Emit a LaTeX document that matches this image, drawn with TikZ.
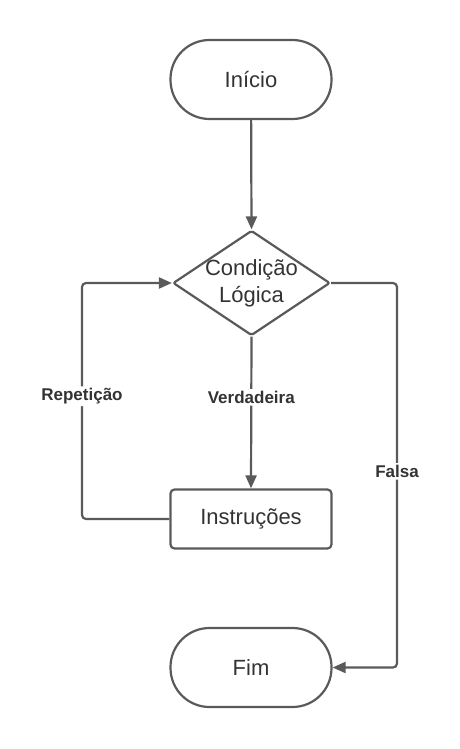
\documentclass[tikz,border=0pt]{standalone}
\usepackage{fontspec}
\setmainfont{Liberation Sans}
\usetikzlibrary{shapes.geometric,arrows.meta}
\definecolor{linec}{HTML}{5A5A5A}
\definecolor{textc}{HTML}{333333}
\begin{document}
\begin{tikzpicture}[x=1pt,y=1pt,
  every node/.style={text=textc},
  lw/.style={line width=2.2pt, draw=linec},
  term/.style={lw, rectangle, rounded corners=39pt, minimum width=161pt, minimum height=79pt, inner sep=0pt, font=\fontsize{22}{27}\selectfont},
  procbox/.style={lw, rectangle, rounded corners=4pt, minimum width=161pt, minimum height=59pt, inner sep=0pt, font=\fontsize{22}{27}\selectfont},
  decis/.style={lw, diamond, rounded corners=2pt, minimum width=157pt, minimum height=105pt, inner sep=0pt},
  conn/.style={lw, rounded corners=4pt, -{Triangle[length=13pt,width=11pt]}},
  lab/.style={fill=white, inner sep=2pt, font=\fontsize{17}{20}\selectfont\bfseries}
]
\path[use as bounding box] (0,0) rectangle (460,-749);

\node[term] (start) at (251,-79.5) {Início};
\node[decis] (cond) at (251.5,-283) {};
\node[align=center, font=\fontsize{22}{27}\selectfont] (condtxt) at (cond) {Condição\\Lógica};
\node[procbox] (inst) at (251,-519) {Instruções};
\node[term] (fim) at (251,-667.5) {Fim};

\coordinate (L) at (82,-519);
\coordinate (R) at (397,-283);

\draw[conn] (start) -- (cond.north);
\draw[conn] (cond.south) -- node[lab,pos=0.4] {Verdadeira} (inst.north);
\draw[conn] (inst.west) -- (L) -- node[lab,pos=0.52] {Repetição} (L |- cond.west) -- (cond.west);
\draw[conn] (cond.east) -- (R) -- node[lab,pos=0.49] {Falsa} (R |- fim.east) -- (fim.east);
\end{tikzpicture}
\end{document}
